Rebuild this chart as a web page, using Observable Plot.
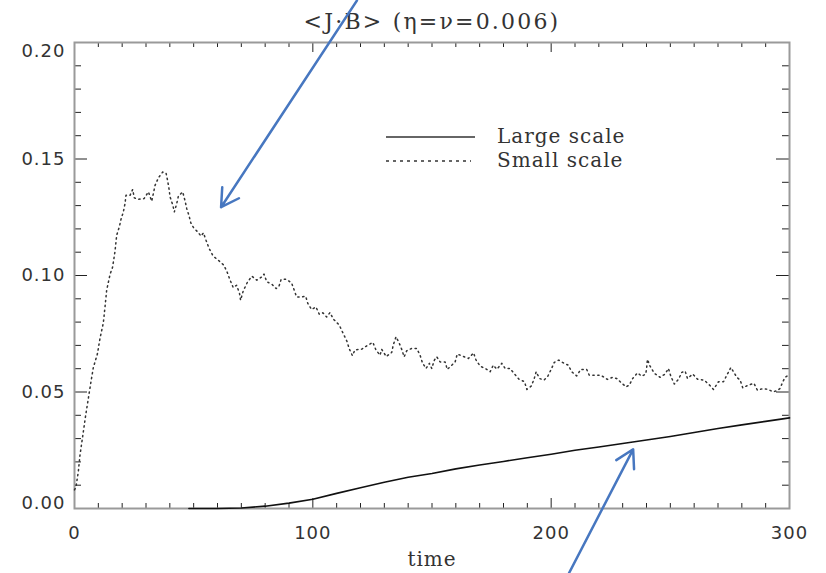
<!DOCTYPE html>
<html>
<head>
<meta charset="utf-8">
<script src="https://cdn.jsdelivr.net/npm/d3@7"></script>
<script src="https://cdn.jsdelivr.net/npm/@observablehq/plot@0.6"></script>
<style>
  html, body { margin: 0; padding: 0; background: #fff; overflow: hidden; }
  #wrap { position: relative; width: 826px; height: 573px; }
  #legend { position: absolute; left: 386px; top: 126px; font-family: "DejaVu Serif", serif; font-size: 20px; color: #333; letter-spacing: 1px; }
  #legend .row { position: relative; height: 24px; }
  #legend svg { position: absolute; left: 0; top: 0; }
  #legend span { position: absolute; left: 111px; white-space: nowrap; }
</style>
</head>
<body>
<div id="wrap"></div>
<script>
// ---- data ----
const titleText = "<J\u00B7B> (\u03B7=\u03BD=0.006)";
const xLabel = "time";
const seriesNames = ["Large scale", "Small scale"];

const xMajor = [0, 100, 200, 300];
const yMajor = [0.00, 0.05, 0.10, 0.15, 0.20];

const largeTime  = [48, 60, 70, 80, 90, 100, 110, 120, 130, 140, 150, 160, 170, 180, 190, 200, 210, 220, 230, 240, 250, 260, 270, 280, 290, 300];
const largeValue = [0, 0, 0.0002, 0.0010, 0.0023, 0.0040, 0.0065, 0.0089, 0.0113, 0.0134, 0.0150, 0.0170, 0.0187, 0.0202, 0.0218, 0.0233, 0.0250, 0.0264, 0.0279, 0.0294, 0.0309, 0.0326, 0.0343, 0.0359, 0.0374, 0.0389];

const smallTime = [0, 0.6, 1.6, 2.3, 3.7, 4.7, 5.8, 6.8, 7.9, 9.6, 10.7, 12.1, 12.8, 13.5, 14.9, 16.0, 17.0, 17.7, 18.8, 19.5, 20.5, 21.2, 21.6, 23.3, 24.4, 25.1, 26.8, 29.2, 31.0, 32.4, 33.1, 33.8, 35.2, 37.0, 38.4, 39.1, 39.7, 40.1, 41.2, 41.9, 42.9, 43.6, 45.4, 46.4, 47.1, 48.0, 48.8, 49.9, 51.7, 53.1, 54.1, 55.2, 56.5, 58.2, 60.3, 62.7, 64.1, 65.3, 66.6, 68.0, 69.2, 69.7, 70.8, 72.5, 74.4, 76.5, 78.6, 79.5, 80.7, 82.8, 84.6, 85.8, 86.7, 88.8, 91.1, 92.1, 93.2, 95.3, 97.0, 97.9, 99.5, 101.3, 102.7, 104.2, 105.8, 107.2, 108.6, 111.1, 112.6, 114.3, 115.3, 116.6, 117.7, 120.5, 122.9, 125.2, 126.5, 128.2, 128.9, 130.8, 133.1, 133.8, 134.9, 136.2, 137.3, 138.3, 139.4, 141.5, 143.6, 145.0, 146.0, 147.5, 148.9, 149.9, 151.0, 152.0, 153.4, 155.5, 156.4, 158.3, 159.7, 160.6, 163.5, 165.3, 167.4, 168.5, 170.2, 172.3, 174.4, 175.7, 177.2, 179.3, 180.7, 182.8, 184.4, 186.5, 188.8, 189.8, 191.6, 192.8, 193.7, 195.1, 197.0, 198.6, 200.0, 201.3, 203.2, 205.4, 207.2, 208.6, 210.7, 212.4, 214.9, 216.0, 218.4, 220.8, 223.6, 225.8, 227.5, 229.3, 231.4, 232.8, 234.2, 236.2, 238.0, 239.7, 240.1, 240.4, 241.5, 243.3, 245.7, 247.8, 249.2, 250.2, 251.7, 253.4, 254.8, 256.2, 257.2, 259.4, 261.4, 264.2, 266.4, 268.1, 270.2, 272.3, 273.7, 275.4, 276.5, 277.9, 279.3, 280.4, 282.8, 285.1, 286.5, 289.0, 291.1, 293.0, 294.7, 296.0, 297.0, 298.1, 300.0];
const smallValue = [0.0080, 0.0091, 0.0158, 0.0229, 0.0329, 0.0401, 0.0472, 0.0537, 0.0605, 0.0663, 0.0730, 0.0797, 0.0865, 0.0937, 0.1004, 0.1037, 0.1104, 0.1173, 0.1208, 0.1241, 0.1273, 0.1309, 0.1344, 0.1344, 0.1369, 0.1333, 0.1327, 0.1330, 0.1359, 0.1319, 0.1352, 0.1387, 0.1419, 0.1444, 0.1440, 0.1406, 0.1369, 0.1337, 0.1304, 0.1273, 0.1309, 0.1341, 0.1359, 0.1320, 0.1287, 0.1259, 0.1226, 0.1206, 0.1187, 0.1169, 0.1183, 0.1151, 0.1116, 0.1083, 0.1066, 0.1044, 0.1013, 0.0980, 0.0948, 0.0958, 0.0925, 0.0894, 0.0934, 0.0970, 0.0997, 0.0980, 0.0994, 0.1006, 0.0973, 0.0963, 0.0944, 0.0954, 0.0983, 0.0984, 0.0968, 0.0940, 0.0908, 0.0908, 0.0911, 0.0880, 0.0854, 0.0865, 0.0834, 0.0840, 0.0822, 0.0841, 0.0813, 0.0787, 0.0754, 0.0718, 0.0685, 0.0656, 0.0681, 0.0684, 0.0700, 0.0713, 0.0680, 0.0658, 0.0683, 0.0652, 0.0670, 0.0704, 0.0737, 0.0711, 0.0683, 0.0651, 0.0677, 0.0687, 0.0687, 0.0658, 0.0625, 0.0601, 0.0623, 0.0601, 0.0637, 0.0651, 0.0629, 0.0629, 0.0597, 0.0615, 0.0629, 0.0663, 0.0651, 0.0644, 0.0668, 0.0637, 0.0611, 0.0601, 0.0587, 0.0615, 0.0598, 0.0623, 0.0601, 0.0601, 0.0580, 0.0555, 0.0544, 0.0511, 0.0525, 0.0554, 0.0587, 0.0558, 0.0551, 0.0568, 0.0597, 0.0627, 0.0637, 0.0623, 0.0615, 0.0587, 0.0569, 0.0597, 0.0597, 0.0572, 0.0572, 0.0572, 0.0554, 0.0563, 0.0558, 0.0541, 0.0522, 0.0530, 0.0558, 0.0582, 0.0568, 0.0577, 0.0608, 0.0640, 0.0611, 0.0580, 0.0563, 0.0577, 0.0601, 0.0568, 0.0534, 0.0554, 0.0584, 0.0590, 0.0558, 0.0577, 0.0555, 0.0551, 0.0530, 0.0511, 0.0544, 0.0544, 0.0572, 0.0605, 0.0587, 0.0563, 0.0551, 0.0518, 0.0530, 0.0537, 0.0508, 0.0515, 0.0511, 0.0501, 0.0505, 0.0515, 0.0539, 0.0563, 0.0575];

// blue annotation arrows (data coordinates: tail -> head)
const arrowX1 = [118.5, 207.5];
const arrowY1 = [0.218, -0.0277];
const arrowX2 = [61.5, 234.4];
const arrowY2 = [0.1293, 0.0254];

// ---- layout ----
const W = 826, H = 573;
const mL = 74, mR = 37, mT = 42, mB = 65;
const innerW = W - mL - mR, innerH = H - mT - mB;
const xMinor = d3.range(0, 301, 10).filter(d => !xMajor.includes(d));
const yMinor = d3.range(0, 21, 1).map(d => d / 100).filter(d => !yMajor.some(m => Math.abs(m - d) < 1e-9));
const tickColor = "#222";
const numFont = {fontFamily: "DejaVu Sans", fontSize: 18, fill: "#333", lineAnchor: "middle"};

const chart = Plot.plot({
  width: W, height: H,
  marginLeft: mL, marginRight: mR, marginTop: mT, marginBottom: mB,
  x: {domain: [0, 300], axis: null},
  y: {domain: [0, 0.2], axis: null},
  style: {background: "#fff"},
  marks: [
    // inward ticks on all four sides
    Plot.tickX(xMajor, {x: d => d, insetTop: innerH - 10, stroke: tickColor}),
    Plot.tickX(xMinor, {x: d => d, insetTop: innerH - 5, stroke: tickColor}),
    Plot.tickX(xMajor, {x: d => d, insetBottom: innerH - 10, stroke: tickColor}),
    Plot.tickX(xMinor, {x: d => d, insetBottom: innerH - 5, stroke: tickColor}),
    Plot.tickY(yMajor, {y: d => d, insetRight: innerW - 13, stroke: tickColor}),
    Plot.tickY(yMinor, {y: d => d, insetRight: innerW - 7, stroke: tickColor}),
    Plot.tickY(yMajor, {y: d => d, insetLeft: innerW - 13, stroke: tickColor}),
    Plot.tickY(yMinor, {y: d => d, insetLeft: innerW - 7, stroke: tickColor}),
    Plot.frame({stroke: "#9a9a9a", strokeWidth: 2}),
    // series
    Plot.line(smallTime, {x: d => d, y: (d, i) => smallValue[i], stroke: "#333", strokeWidth: 1.5, strokeDasharray: "1.3,3.6"}),
    Plot.line(largeTime, {x: d => d, y: (d, i) => largeValue[i], stroke: "#111", strokeWidth: 1.6}),
    // tick labels
    Plot.text(xMajor, {x: d => d, frameAnchor: "bottom", dy: 25, text: d => String(d), ...numFont}),
    Plot.text(yMajor.filter(d => d > 0 && d < 0.2), {y: d => d, frameAnchor: "left", dx: -9, textAnchor: "end", text: d => d.toFixed(2), ...numFont}),
    Plot.text(yMajor.filter(d => d >= 0.2), {y: d => d, frameAnchor: "left", dx: -9, dy: 9, textAnchor: "end", text: d => d.toFixed(2), ...numFont}),
    Plot.text(yMajor.filter(d => d <= 0), {y: d => d, frameAnchor: "left", dx: -9, dy: -5, textAnchor: "end", text: d => d.toFixed(2), ...numFont}),
    // axis title and chart title
    Plot.text([xLabel], {frameAnchor: "bottom", dy: 51, lineAnchor: "middle", text: d => d, fontFamily: "DejaVu Serif", fontSize: 20, fill: "#333"}),
    Plot.text([titleText], {frameAnchor: "top", dy: -21, lineAnchor: "middle", text: d => d, fontFamily: "DejaVu Serif", fontSize: 22, fill: "#333"}),
    // annotation arrows
    Plot.arrow(arrowX1, {x1: d => d, y1: (d, i) => arrowY1[i], x2: (d, i) => arrowX2[i], y2: (d, i) => arrowY2[i], stroke: "#4777c0", strokeWidth: 2.5, headLength: 12, headAngle: 60})
  ]
});

d3.select(chart).selectAll("text").each(function() {
  const t = this.textContent;
  if (t === titleText) this.style.letterSpacing = "2.2px";
  else this.style.letterSpacing = "1px";
});

const wrap = document.getElementById("wrap");
wrap.appendChild(chart);

// legend (overlay inside the plot area)
const legend = document.createElement("div");
legend.id = "legend";
const styles = [{dash: null}, {dash: "3,4"}];
seriesNames.forEach((name, i) => {
  const row = document.createElement("div");
  row.className = "row";
  row.innerHTML = `<svg width="92" height="24"><line x1="0" x2="${i === 0 ? 89 : 85}" y1="11" y2="11" stroke="#333" stroke-width="1.3" ${styles[i].dash ? `stroke-dasharray="${styles[i].dash}"` : ""}/></svg><span style="top:-2px">${name}</span>`;
  legend.appendChild(row);
});
wrap.appendChild(legend);
</script>
</body>
</html>
